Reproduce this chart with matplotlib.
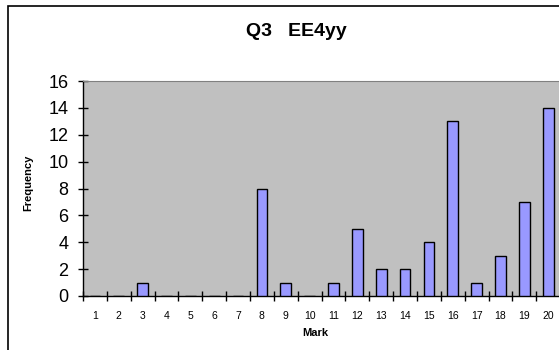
import matplotlib.pyplot as plt
from matplotlib.patches import Rectangle
import numpy as np

plt.rcParams['font.family'] = ['Liberation Sans', 'DejaVu Sans']

# Marks 1..20 and how many students got each
marks = list(range(1, 21))
freq = [0, 0, 1, 0, 0, 0, 0, 8, 1, 0, 1, 5, 2, 2, 4, 13, 1, 3, 7, 14]

W, H = 559, 350
fig = plt.figure(figsize=(W / 100, H / 100), dpi=100)
fig.patch.set_facecolor('white')

# chart border (runs off the right and bottom edges)
fig.patches.append(Rectangle((8 / W, -0.1), 1.2, 1 - 6 / H + 0.1, transform=fig.transFigure,
                             fill=False, edgecolor='black', linewidth=1.2))

ax = fig.add_axes([83 / W, 1 - 296 / H, (W - 83) / W + 0.002, (296 - 81) / H])
ax.set_facecolor('#c0c0c0')

x = np.arange(len(marks))
ax.bar(x, freq, width=0.45, color='#9999ff', edgecolor='black', linewidth=1.0, zorder=3)

ax.set_xlim(-0.5, len(marks) - 0.5)
ax.set_ylim(0, 16)
ax.set_yticks(range(0, 17, 2))
ax.tick_params(axis='y', direction='inout', length=7, width=1, labelsize=13, pad=7)

ax.set_xticks(x)
ax.set_xticklabels([str(m) for m in marks])
ax.tick_params(axis='x', which='major', length=0, labelsize=7.5, pad=11)
ax.set_xticks(np.arange(-0.5, len(marks), 1), minor=True)
ax.tick_params(axis='x', which='minor', direction='inout', length=7, width=1)

for s in ['left', 'bottom']:
    ax.spines[s].set_color('black')
    ax.spines[s].set_linewidth(1)
ax.spines['top'].set_color('#808080')
ax.spines['right'].set_color('#808080')

fig.text(296 / W, 1 - 32 / H, 'Q3   EE4yy', ha='center', va='center',
         fontsize=14, fontweight='bold')
fig.text(315 / W, 1 - 333 / H, 'Mark', ha='center', va='center',
         fontsize=8, fontweight='bold')
fig.text(28 / W, 1 - 183 / H, 'Frequency', ha='center', va='center',
         fontsize=8, fontweight='bold', rotation=90)

fig.savefig('out.png', dpi=100)
